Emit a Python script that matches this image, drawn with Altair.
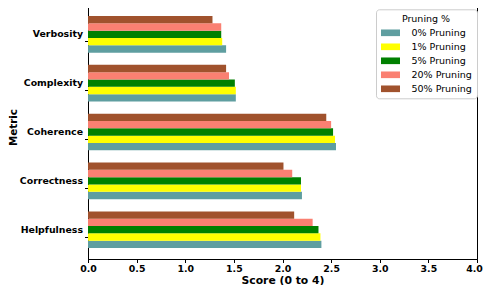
import altair as alt
import pandas as pd

metrics = ["Verbosity", "Complexity", "Coherence", "Correctness", "Helpfulness"]
levels = ["0% Pruning", "1% Pruning", "5% Pruning", "20% Pruning", "50% Pruning"]
colors = ["#5F9EA0", "#FFFF00", "#008000", "#FA8072", "#A0522D"]
x_ticks = [0, 0.5, 1, 1.5, 2, 2.5, 3, 3.5, 4]

score_0 = [1.42, 1.52, 2.55, 2.20, 2.40]
score_1 = [1.38, 1.52, 2.54, 2.19, 2.39]
score_5 = [1.37, 1.51, 2.52, 2.19, 2.37]
score_20 = [1.37, 1.45, 2.50, 2.10, 2.31]
score_50 = [1.28, 1.42, 2.45, 2.01, 2.12]

series = [score_0, score_1, score_5, score_20, score_50]
rows = []
for lvl, vals in zip(levels, series):
    for m, v in zip(metrics, vals):
        rows.append({"Metric": m, "Pruning": lvl, "Score": v})
df = pd.DataFrame(rows)

font = "DejaVu Sans"

chart = alt.Chart(df).mark_bar().encode(
    y=alt.Y("Metric:N", sort=metrics,
            scale=alt.Scale(paddingInner=0.25, paddingOuter=0.225),
            axis=alt.Axis(title="Metric", labelFont=font, labelFontWeight="bold",
                          labelFontSize=9.4, titleFont=font, titleFontWeight="bold",
                          titleFontSize=10.3, tickSize=3.5,
                          labelPadding=2, bandPosition=0.7, titleY=122, titleX=-70,
                          titleBaseline="bottom", titleAngle=-90,
                          domainColor="#000", tickColor="#000",
                          labelColor="#000", titleColor="#000", grid=False)),
    yOffset=alt.YOffset("Pruning:N", sort=levels[::-1],
                        scale=alt.Scale(paddingInner=0, paddingOuter=0)),
    x=alt.X("Score:Q", scale=alt.Scale(domain=[0, 4], nice=False),
            axis=alt.Axis(title="Score (0 to 4)", values=x_ticks,
                          format=".1f", labelFont=font, labelFontWeight="bold",
                          labelFontSize=9.4, titleFont=font, titleFontWeight="bold",
                          titleFontSize=10.8, titleY=24, titleBaseline="alphabetic",
                          tickSize=3.5, labelPadding=2,
                          labelOffset={"condition": {"test": "datum.value == 4", "value": -3}, "value": 0},
                          domainColor="#000", tickColor="#000", labelColor="#000",
                          titleColor="#000", grid=False, labelFlush=False)),
    color=alt.Color("Pruning:N", sort=levels,
                    scale=alt.Scale(domain=levels, range=colors),
                    legend=alt.Legend(title="Pruning %", orient="none", legendX=288, legendY=4.3,
                                      titleFont=font, titleFontWeight="normal", titleFontSize=9.5,
                                      titleAnchor="middle", titleColor="#000", titlePadding=4,
                                      labelFont=font, labelFontSize=9.5, labelColor="#000",
                                      labelAlign="left",
                                      symbolType="M-2,-0.7L2,-0.7L2,0.7L-2,0.7Z",
                                      symbolSize=90, symbolStrokeWidth=0, symbolOpacity=1,
                                      symbolOffset=4.5, labelOffset=16,
                                      rowPadding=4, strokeColor="#cccccc", fillColor="white",
                                      padding=5, cornerRadius=3)),
).properties(
    width=389, height=254,
    autosize=alt.AutoSizeParams(type="none"),
    padding={"left": 80, "top": -3, "right": 6, "bottom": 26},
).configure_view(stroke="#000", strokeWidth=1)

chart.save("out.html", embed_options={"renderer": "svg", "actions": False})
